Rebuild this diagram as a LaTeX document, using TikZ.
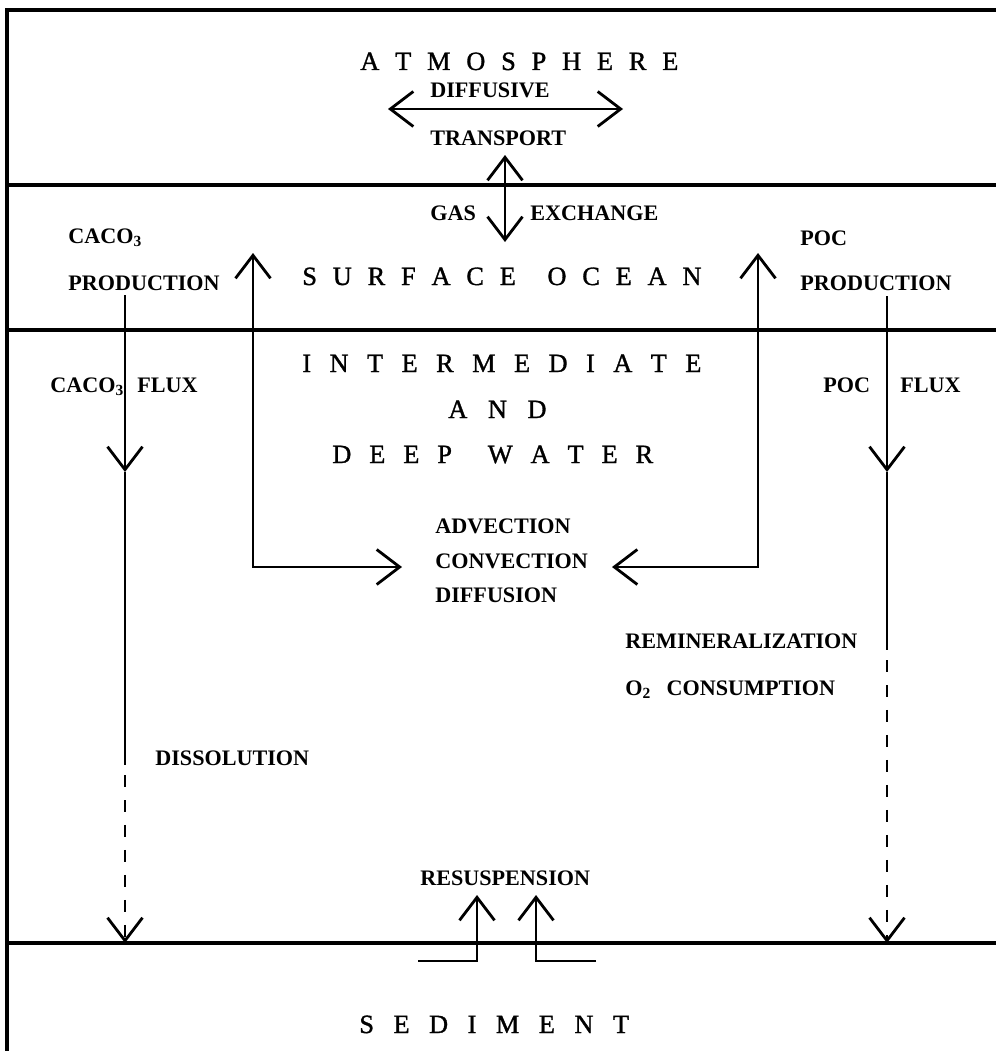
\documentclass[tikz,border=0pt]{standalone}
\usepackage{fontspec}
\setmainfont{Liberation Serif}
\newfontfamily\layerfont[FakeBold=1.2]{Liberation Serif}
\usetikzlibrary{arrows.meta}
% letters set apart, {} marks a word gap
\makeatletter
\newcommand\spread[2]{\@tfor\sp@c:=#2\do{\sp@c\hspace{#1}}\unskip}
\makeatother

\begin{document}
\begin{tikzpicture}[x=.02cm, y=-.02cm,
  >={Straight Barb[length=4.6mm,width=7mm]},
  lab/.style={anchor=base west, inner sep=0pt, font=\bfseries\fontsize{12.6}{15}\selectfont},
  big/.style={anchor=base west, inner sep=0pt, font=\layerfont\fontsize{15}{18}\selectfont},
  layer/.style={line width=1.8pt},
  flow/.style={line width=1.6pt},
  hidden/.style={flow, dash pattern=on 2.4mm off 2.6mm, dash phase=3mm}]
\useasboundingbox (0,0) rectangle (996,1051);
%
\draw[layer] (996,10) -- (7,10) -- (7,1051);
\draw[layer] (7,185) -- (996,185);
\draw[layer] (7,330) -- (996,330);
\draw[layer] (7,943) -- (996,943);
%
             \node [big] at (360,70) (atm) {\spread{.6em}{ATMOSPHERE}};
              \node [lab] at (430,98) (dif) {DIFFUSIVE};
              \node [lab] at (430,145) (tra) {TRANSPORT};
                   \node [lab] at (430,220) (gas) {GAS};
                   \node [lab] at (530,220) (exc) {EXCHANGE};
                       \node [lab] at (68,243) (cc) {CACO\textsubscript{3}};
                       \node [lab] at (68,290) (cprod) {PRODUCTION};
                        \node [big] at (302,285) (sur) {\spread{.6em}{SURFACE{}OCEAN}};
                        \node [lab] at (800,245) (poc) {POC};
                        \node [lab] at (800,290) (pprod) {PRODUCTION};
                          \node [big] at (302,372) (int) {\spread{.7em}{INTERMEDIATE}};
                          \node [big] at (448,418) (and) {\spread{.78em}{AND}};
                          \node [big] at (332,463) (deep) {\spread{.68em}{DEEP{}WATER}};
                           \node [lab] at (50,392) (ccf) {CACO\textsubscript{3}};
                           \node [lab] at (137,392) (cflux) {FLUX};
                           \node [lab] at (823,392) (pocf) {POC};
                           \node [lab] at (900,392) (pflux) {FLUX};
                            \node [lab] at (435,533) (adv) {ADVECTION};
                            \node [lab] at (435,568) (con) {CONVECTION};
                            \node [lab] at (435,602) (dfs) {DIFFUSION};
                             \node [lab] at (625,648) (rem) {REMINERALIZATION};
                             \node [lab] at (625,695) (oxy) {O\textsubscript{2}\hspace{.7em}CONSUMPTION};
                             \node [lab] at (155,765) (dis) {DISSOLUTION};
                              \node [lab] at (420,885) (res) {RESUSPENSION};
                              \node [big] at (359,1033) (sed) {\spread{.74em}{SEDIMENT}};
%
\coordinate (dl) at (388,109);  \coordinate (dr) at (623,109);
\coordinate (gt) at (505,155);  \coordinate (gb) at (505,242);
\coordinate (lt) at (253,253);  \coordinate (lc) at (253,567);  \coordinate (lm) at (402,567);
\coordinate (rt) at (758,253);  \coordinate (rc) at (758,567);  \coordinate (rm) at (612,567);
\coordinate (c1) at (125,295);  \coordinate (c2) at (125,472);
\coordinate (c3) at (125,765);  \coordinate (c4) at (125,943);
\coordinate (p1) at (887,296);  \coordinate (p2) at (887,472);
\coordinate (p3) at (887,650);  \coordinate (p4) at (887,943);
\coordinate (ua) at (418,961);  \coordinate (ub) at (477,961);  \coordinate (ut) at (477,895);
\coordinate (va) at (596,961);  \coordinate (vb) at (536,961);  \coordinate (vt) at (536,895);
%
\draw[<->, flow] (dl) -- (dr);
\draw[<->, flow] (gt) -- (gb);
\draw[<->, flow] (lt) -- (lc) -- (lm);
\draw[<->, flow] (rt) -- (rc) -- (rm);
\draw[->, flow] (c1) -- (c2);
\draw[flow] (c2) -- (c3);
\draw[->, hidden] (c3) -- (c4);
\draw[->, flow] (p1) -- (p2);
\draw[flow] (p2) -- (p3);
\draw[->, hidden] (p3) -- (p4);
\draw[->, flow] (ua) -- (ub) -- (ut);
\draw[->, flow] (va) -- (vb) -- (vt);
\end{tikzpicture}
\end{document}
